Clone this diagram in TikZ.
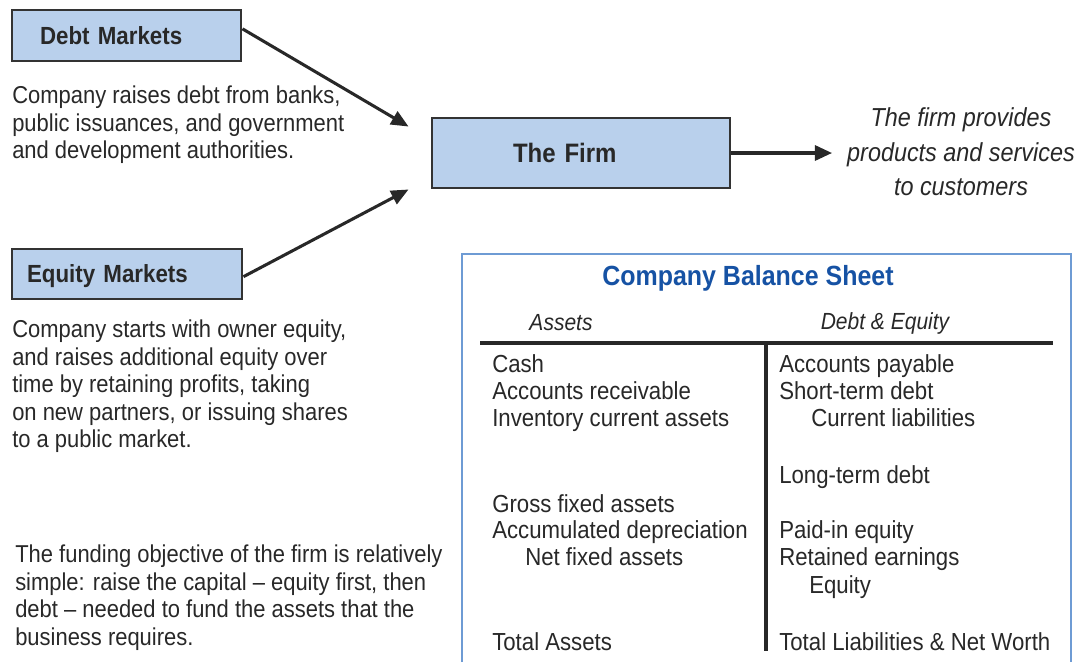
\documentclass[tikz,border=0pt]{standalone}
\usepackage{fontspec}
\setmainfont{Liberation Sans}[FakeStretch=0.9]
\usetikzlibrary{arrows.meta}

\definecolor{mktblue}{RGB}{185,208,236}
\definecolor{titleblue}{RGB}{22,82,164}
\definecolor{frameblue}{RGB}{110,155,212}
\definecolor{inkgray}{RGB}{40,40,40}

\tikzset{
  market/.style={rectangle, draw=black!80, line width=2.2pt, fill=mktblue,
          align=left, inner ysep=0pt, text depth=0pt, text=inkgray,
          font=\fontsize{18.6}{22}\selectfont\bfseries},
  blurb/.style={align=left, inner sep=0pt, anchor=north west, text=inkgray,
          font=\fontsize{18.3}{20.6}\selectfont},
  serve/.style={align=center, inner sep=0pt, text=inkgray,
          font=\fontsize{19.5}{26}\selectfont\itshape},
  flow/.style={line width=2.3pt, draw=inkgray, -{Triangle[length=13pt,width=11pt]}},
  sheetframe/.style={draw=frameblue, line width=1pt},
  sheettitle/.style={inner sep=0pt, text=titleblue,
          font=\fontsize{20.8}{26}\selectfont\bfseries},
  colhead/.style={inner sep=0pt, text=inkgray, font=\fontsize{17.5}{22}\selectfont\itshape},
  tline/.style={line width=3pt, draw=inkgray},
  item/.style={anchor=base west, inner sep=0pt, text=inkgray,
          font=\fontsize{18.5}{22}\selectfont}
}

\begin{document}
\begin{tikzpicture}[x=0.75pt,y=-0.75pt]
\useasboundingbox (0,0) rectangle (1080,662);

% markets and the firm
\node[market, inner xsep=21pt, text width=129.75pt, minimum height=38.25pt] (debt)
          at (126.5,35.5) {Debt Markets};
\node[market, inner xsep=11.25pt, text width=150pt, minimum height=37.5pt] (equity)
          at (127,274) {Equity Markets};
\node[market, inner xsep=60.75pt, text width=102pt, minimum height=52.5pt,
          font=\fontsize{20}{24}\selectfont\bfseries] (firm)
          at (581,153) {The Firm};

\node[blurb] (debtnote) at (12,86) {Company raises debt from banks,\\
          public issuances, and government\\and development authorities.};
\node[blurb] (equitynote) at (12,320) {Company starts with owner equity,\\
          and raises additional equity over\\time by retaining profits, taking\\
          on new partners, or issuing shares\\to a public market.};
\node[blurb] (fundnote) at (15,545) {The funding objective of the firm is relatively\\
          simple: raise the capital -- equity first, then\\
          debt -- needed to fund the assets that the\\business requires.};

\node[serve] (serve) at (961,152) {The firm provides\\products and services\\to customers};

\coordinate (intop) at ([xshift=-16.5pt,yshift=-7.5pt]firm.north west);
\coordinate (inbot) at ([xshift=-16.5pt]firm.south west);
\coordinate (outend) at ([xshift=-11pt]firm.east -| serve.west);
\draw[flow] ([yshift=5pt]debt.east) -- (intop);
\draw[flow] ([yshift=-2pt]equity.east) -- (inbot);
\draw[flow, line width=3pt] (firm.east) -- (outend);

% balance sheet
\draw[sheetframe] (462,662) |- (1071,254) -- (1071,662);
\node[sheettitle] (title) at (748,278) {Company Balance Sheet};
\node[colhead] (assets) at (561,323) {Assets};
\node[colhead] (claims) at (885,323) {Debt \& Equity};

\coordinate (tleft) at (480,343);
\coordinate (tright) at (1053,343);
\coordinate (tmid) at (766,343);
\coordinate (tfoot) at (766,651);
\draw[tline] (tleft) -- (tright);
\draw[tline] (tmid) -- (tfoot);

\node[item] (cash) at (492,372) {Cash};
\node[item] (recv) at (492,399) {Accounts receivable};
\node[item] (invent) at (492,426) {Inventory current assets};
\node[item] (grossfa) at (492,512) {Gross fixed assets};
\node[item] (deprec) at (492,538) {Accumulated depreciation};
\node[item] (netfa) at (525,565) {Net fixed assets};
\node[item] (totassets) at (492,650) {Total Assets};

\node[item] (payable) at (779,372) {Accounts payable};
\node[item] (shortdebt) at (779,399) {Short-term debt};
\node[item] (curliab) at (811,426) {Current liabilities};
\node[item] (longdebt) at (779,483) {Long-term debt};
\node[item] (paidin) at (779,538) {Paid-in equity};
\node[item] (retained) at (779,565) {Retained earnings};
\node[item] (eqtotal) at (809,593) {Equity};
\node[item] (totliab) at (779,650) {Total Liabilities \& Net Worth};
\end{tikzpicture}
\end{document}
